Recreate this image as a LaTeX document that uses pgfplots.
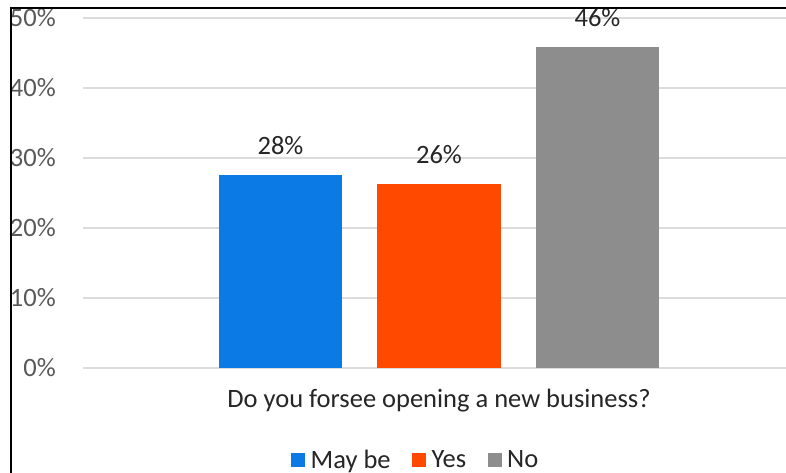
\documentclass[border=0pt]{standalone}
\usepackage{pgfplots}
\pgfplotsset{compat=1.18}
\usepackage{fontspec}
\setmainfont{Carlito}
\definecolor{cblue}{RGB}{11,122,228}
\definecolor{corange}{RGB}{255,72,0}
\definecolor{cgray}{RGB}{141,141,141}
\definecolor{gridc}{RGB}{220,220,220}
\definecolor{tickc}{RGB}{89,89,89}
\definecolor{labc}{RGB}{38,38,38}
\begin{document}
\begin{tikzpicture}
\path[use as bounding box] (0,0) rectangle (786pt,473pt);
\clip (0,0) rectangle (786pt,473pt);
\fill[white] (0,0) rectangle (786pt,473pt);
\begin{axis}[
  scale only axis,
  width=712pt, height=350pt,
  at={(83pt,105pt)}, anchor=south west,
  xmin=-0.246, xmax=4.246,
  ymin=0, ymax=50,
  /pgf/number format/assume math mode=true,
  ytick={0,10,20,30,40,50},
  yticklabel={\pgfmathprintnumber{\tick}\%},
  yticklabel style={anchor=east, inner sep=0pt, xshift=-27pt, text=tickc},
  xtick=\empty,
  ymajorgrids,
  grid style={gridc, line width=1.5pt},
  axis line style={draw=none},
  major tick style={draw=none},
  font=\fontsize{26.5}{31}\selectfont,
  ybar, bar shift=0pt, bar width=0.78,
  nodes near coords={\pgfmathprintnumber[fixed,precision=0]{\pgfplotspointmeta}\%},
  nodes near coords style={anchor=south, inner sep=0pt, yshift=20pt, text=labc},
  xlabel={Do you forsee opening a new business?},
  xlabel style={at={(rel axis cs:0.5,0)}, anchor=base, yshift=-40pt, inner sep=0pt, text=labc},
  legend columns=3,
  legend style={at={(rel axis cs:0.2921,-0.2629)}, anchor=west, draw=none, fill=none, inner sep=0pt, text=labc,
    /tikz/every even column/.append style={column sep=21pt},
    nodes={inner sep=0.5pt}},
  legend image code/.code={\fill[#1] (0pt,-7pt) rectangle (14pt,7pt); \path (19pt,0pt);},
]
\addplot[fill=cblue, draw=none] coordinates {(1,27.6)};
\addplot[fill=corange, draw=none] coordinates {(2,26.3)};
\addplot[fill=cgray, draw=none] coordinates {(3,45.9)};
\legend{May be,Yes,No}
\end{axis}
\draw[line width=2pt, black] (11pt,0) -- (11pt,465pt) -- (786pt,465pt);
\end{tikzpicture}
\end{document}
